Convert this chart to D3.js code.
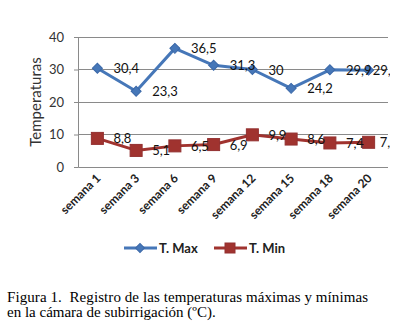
<!DOCTYPE html>
<html><head><meta charset="utf-8">
<script src="https://cdn.jsdelivr.net/npm/d3@7"></script>
<style>body{margin:0;background:#fff}svg{display:block}</style>
</head><body>
<script>
const categories = ["semana 1","semana 3","semana 6","semana 9","semana 12","semana 15","semana 18","semana 20"];
const tMax = [30.4, 23.3, 36.5, 31.3, 30, 24.2, 29.9, 29.8];
const tMin = [8.8, 5.1, 6.5, 6.9, 9.9, 8.6, 7.4, 7.6];
const yTicks = [0, 10, 20, 30, 40];
const seriesNames = ["T. Max", "T. Min"];
const caption = ["Figura 1.\u00A0 Registro de las temperaturas máximas y mínimas", "en la cámara de subirrigación (ºC)."];

const W = 401, H = 332;
const svg = d3.select("body").append("svg").attr("width", W).attr("height", H);
const font = "Lato, 'Open Sans', sans-serif";
const blue = "#4677B8", blueDark = "#3B68A8";
const red = "#A0332F", redDark = "#933030";

const x = d3.scaleBand().domain(categories).range([78, 388]);
const y = d3.scaleLinear().domain([0, 40]).range([167, 37]);
const cx = d => x(d) + x.bandwidth() / 2;

const defs = svg.append("defs");
defs.append("clipPath").attr("id", "clip").append("rect").attr("x", 0).attr("y", 0).attr("width", 390).attr("height", H);

// gridlines
svg.append("g").selectAll("line").data(yTicks.filter(t => t > 0)).join("line")
  .attr("x1", 78).attr("x2", 388).attr("y1", d => y(d)).attr("y2", d => y(d))
  .attr("stroke", "#8a8a8a").attr("stroke-width", 1).attr("shape-rendering", "crispEdges");

// y axis
const yAxis = svg.append("g").attr("transform", "translate(78,0)")
  .call(d3.axisLeft(y).tickValues(yTicks).tickSize(4).tickPadding(10));
yAxis.select(".domain").attr("stroke", "#8a8a8a");
yAxis.selectAll(".tick line").attr("stroke", "#8a8a8a");
yAxis.selectAll("text").attr("font-family", font).attr("font-size", 13).attr("fill", "#333");
// x axis
const xAxis = svg.append("g").attr("transform", "translate(0,167)")
  .call(d3.axisBottom(x).tickSize(0).tickSizeOuter(0).tickFormat(""));
xAxis.select(".domain").attr("stroke", "#8a8a8a").attr("d", "M78.5,0.5H388");

// x labels
svg.append("g").selectAll("text").data(categories).join("text")
  .attr("transform", d => `translate(${cx(d) + 4},179) rotate(-45)`)
  .attr("text-anchor", "end").attr("font-family", font).attr("font-weight", "bold")
  .attr("font-size", 12).attr("fill", "#222").text(d => d);

// y title
svg.append("text").attr("transform", "translate(41,102) rotate(-90)")
  .attr("text-anchor", "middle").attr("font-family", font).attr("font-size", 15)
  .attr("fill", "#333").text("Temperaturas");

const line = d3.line().x((d, i) => cx(categories[i])).y(d => y(d));
const gPlot = svg.append("g").attr("clip-path", "url(#clip)");

// max series
gPlot.append("path").datum(tMax).attr("d", line).attr("fill", "none")
  .attr("stroke", blue).attr("stroke-width", 3).attr("stroke-linejoin", "round");
gPlot.append("g").selectAll("path").data(tMax).join("path")
  .attr("d", d3.symbol().type(d3.symbolSquare).size(50))
  .attr("transform", (d, i) => `translate(${cx(categories[i])},${y(d)}) rotate(45)`)
  .attr("fill", blue).attr("stroke", blueDark).attr("stroke-width", 1);

// min series
gPlot.append("path").datum(tMin).attr("d", line).attr("fill", "none")
  .attr("stroke", red).attr("stroke-width", 3).attr("stroke-linejoin", "round");
gPlot.append("g").selectAll("rect").data(tMin).join("rect")
  .attr("x", (d, i) => cx(categories[i]) - 6).attr("y", d => y(d) - 6)
  .attr("width", 12).attr("height", 12)
  .attr("fill", red).attr("stroke", redDark).attr("stroke-width", 1);

// data labels
const fmt = v => String(v).replace(".", ",");
const lab = (data, offs) => gPlot.append("g").selectAll("text").data(data).join("text")
  .attr("x", (d, i) => cx(categories[i]) + offs[i])
  .attr("y", d => y(d) + 5)
  .attr("font-family", font).attr("font-size", 13).attr("fill", "#111")
  .text(fmt);
lab(tMax, [16, 16, 16, 16, 16, 16, 16, 4]);
lab(tMin, [16, 16, 16, 16, 16, 16, 16, 11]);

// legend
const lg = svg.append("g");
lg.append("line").attr("x1", 124).attr("x2", 157).attr("y1", 248).attr("y2", 248)
  .attr("stroke", blue).attr("stroke-width", 3);
lg.append("path").attr("d", d3.symbol().type(d3.symbolSquare).size(40)())
  .attr("transform", "translate(140,248) rotate(45)").attr("fill", blue).attr("stroke", blueDark);
lg.append("text").attr("x", 159).attr("y", 253).attr("font-family", font).attr("font-weight", "bold")
  .attr("font-size", 13).attr("fill", "#222").text(seriesNames[0]);
lg.append("line").attr("x1", 214).attr("x2", 247).attr("y1", 248).attr("y2", 248)
  .attr("stroke", red).attr("stroke-width", 3);
lg.append("rect").attr("x", 225).attr("y", 243).attr("width", 10).attr("height", 10)
  .attr("fill", red).attr("stroke", redDark);
lg.append("text").attr("x", 249).attr("y", 253).attr("font-family", font).attr("font-weight", "bold")
  .attr("font-size", 13).attr("fill", "#222").text(seriesNames[1]);

// caption
svg.append("g").selectAll("text").data(caption).join("text")
  .attr("x", 7).attr("y", (d, i) => 302 + i * 15)
  .attr("font-family", "'Liberation Serif', 'Times New Roman', serif").attr("font-size", 15)
  .attr("textLength", (d, i) => i === 0 ? 361 : null)
  .attr("lengthAdjust", "spacing")
  .attr("fill", "#000").text(d => d);
</script>
</body></html>
